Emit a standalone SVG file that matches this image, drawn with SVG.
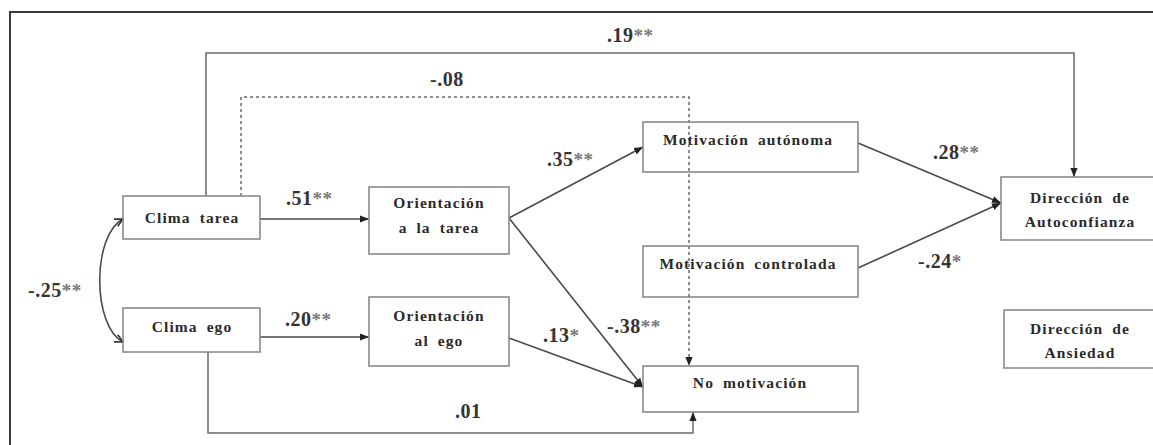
<svg xmlns="http://www.w3.org/2000/svg" width="1153" height="445" viewBox="0 0 1153 445">
<style>
.box{fill:none;stroke:#8a8a8a;stroke-width:1.6}
.nt{font-family:"Liberation Serif","Times New Roman",serif;font-weight:bold;font-size:15.5px;fill:#2a2a2a;text-anchor:middle;letter-spacing:1.1px;word-spacing:4px}
.lbl{font-family:"Liberation Serif","Times New Roman",serif;font-weight:bold;font-size:20px;fill:#333;letter-spacing:0.5px}
.ast{fill:#777;font-size:19px}
.ln{fill:none;stroke:#4a4a4a;stroke-width:1.6}
.thin{fill:none;stroke:#6a6a6a;stroke-width:1.5}
.dash{fill:none;stroke:#6a6a6a;stroke-width:1.5;stroke-dasharray:3 3}
</style>
<defs>
<marker id="ah" viewBox="0 0 10 10" refX="10" refY="5" markerWidth="9" markerHeight="9" markerUnits="userSpaceOnUse" orient="auto">
<path d="M0,1 L10,5 L0,9 Z" fill="#222"/>
</marker>
<marker id="ov" viewBox="0 0 10 10" refX="9" refY="5" markerWidth="10" markerHeight="10" markerUnits="userSpaceOnUse" orient="auto-start-reverse">
<path d="M1,1 L9,5 L1,9" fill="none" stroke="#333" stroke-width="1.6"/>
</marker>
</defs>
<rect x="0" y="0" width="1153" height="445" fill="#fff"/>
<path d="M10,445 L10,12 L1153,12" fill="none" stroke="#3a3a3a" stroke-width="2"/>

<g id="connectors">
<path class="thin" d="M206,196 L206,53 L1074,53 L1074,177" marker-end="url(#ah)"/>
<path class="dash" d="M241,196 L241,97 L689,97 L689,366" marker-end="url(#ah)"/>
<path class="ln" d="M260,219 L369,219" marker-end="url(#ah)"/>
<path class="ln" d="M260,337 L369,337" marker-end="url(#ah)"/>
<path class="thin" d="M208,352 L208,433 L693,433 L693,412" marker-end="url(#ah)"/>
<path class="ln" d="M123,219 C92,235 92,326 123,342" marker-start="url(#ov)" marker-end="url(#ov)"/>
<path class="ln" d="M509,218 L643,147" marker-end="url(#ah)"/>
<path class="ln" d="M509,218 L643,387" marker-end="url(#ah)"/>
<path class="ln" d="M509,338 L643,387" marker-end="url(#ah)"/>
<path class="ln" d="M858,143 L1001,203" marker-end="url(#ah)"/>
<path class="ln" d="M858,268 L1001,203" marker-end="url(#ah)"/>
<text class="lbl" x="607" y="42">.19<tspan class="ast">**</tspan></text>
<text class="lbl" x="430" y="86">-.08</text>
<text class="lbl" x="286" y="205">.51<tspan class="ast">**</tspan></text>
<text class="lbl" x="285" y="326">.20<tspan class="ast">**</tspan></text>
<text class="lbl" x="28" y="297">-.25<tspan class="ast">**</tspan></text>
<text class="lbl" x="547" y="166">.35<tspan class="ast">**</tspan></text>
<text class="lbl" x="607" y="333">-.38<tspan class="ast">**</tspan></text>
<text class="lbl" x="543" y="342">.13<tspan class="ast">*</tspan></text>
<text class="lbl" x="455" y="418">.01</text>
<text class="lbl" x="933" y="159">.28<tspan class="ast">**</tspan></text>
<text class="lbl" x="918" y="268">-.24<tspan class="ast">*</tspan></text>
</g>

<g id="clima-tarea"><rect class="box" x="123" y="196" width="137" height="43"/><text class="nt" x="192" y="223">Clima tarea</text></g>
<g id="clima-ego"><rect class="box" x="123" y="308" width="137" height="44"/><text class="nt" x="192" y="332">Clima ego</text></g>
<g id="orientacion-tarea"><rect class="box" x="369" y="187" width="140" height="67"/><text class="nt" x="439" y="208">Orientación</text><text class="nt" x="439" y="233">a la tarea</text></g>
<g id="orientacion-ego"><rect class="box" x="369" y="297" width="140" height="69"/><text class="nt" x="439" y="321">Orientación</text><text class="nt" x="439" y="346">al ego</text></g>
<g id="motivacion-autonoma"><rect class="box" x="643" y="122" width="215" height="50"/><text class="nt" x="748" y="145">Motivación autónoma</text></g>
<g id="motivacion-controlada"><rect class="box" x="643" y="246" width="215" height="51"/><text class="nt" x="748" y="269">Motivación controlada</text></g>
<g id="no-motivacion"><rect class="box" x="643" y="366" width="215" height="46"/><text class="nt" x="750" y="388">No motivación</text></g>
<g id="direccion-autoconfianza"><rect class="box" x="1001" y="177" width="160" height="63"/><text class="nt" x="1080" y="203">Dirección de</text><text class="nt" x="1080" y="227">Autoconfianza</text></g>
<g id="direccion-ansiedad"><rect class="box" x="1004" y="310" width="156" height="58"/><text class="nt" x="1080" y="334">Dirección de</text><text class="nt" x="1080" y="358">Ansiedad</text></g>
</svg>
